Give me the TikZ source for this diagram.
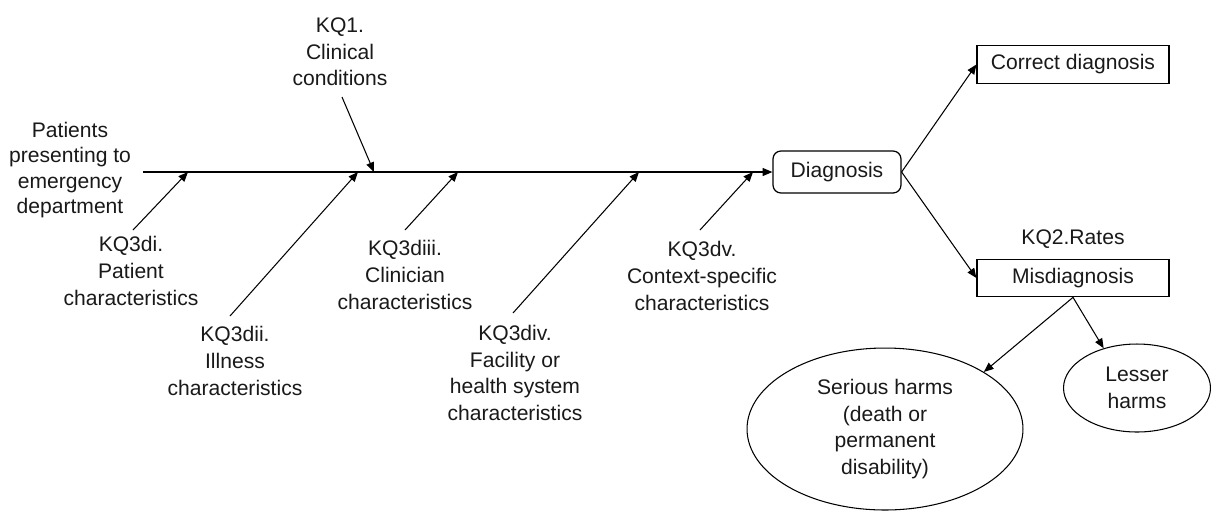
\documentclass[tikz,border=0pt]{standalone}
\usepackage{fontspec}
\setmainfont{Liberation Sans}
\usetikzlibrary{arrows.meta}
\usetikzlibrary{shapes.geometric}

\begin{document}
\begin{tikzpicture}[x=0.02cm,y=-0.02cm,
  every node/.style={font=\fontsize{12}{15.2}\selectfont,align=center,text=black!90},
  arr/.style={-{Triangle[length=5.5pt,width=4.5pt]},line width=0.6pt},
  box/.style={draw,line width=0.7pt,minimum width=3.84cm,minimum height=0.75cm,inner sep=0pt},
  dbox/.style={draw,line width=0.7pt,rounded corners=4.5pt,minimum width=2.56cm,minimum height=0.84cm,inner sep=0pt},
  ell/.style={draw,ellipse,line width=0.6pt,inner sep=0pt}]
\useasboundingbox (0,0) rectangle (1211,512);
\node[font=\fontsize{12}{14.4}\selectfont] (patients) at (70,170) {Patients\\presenting to\\emergency\\department};
\node[dbox] (diag) at (837,172) {Diagnosis};
\node[box] (correct) at (1073,64.5) {Correct diagnosis};
\node[box] (mis) at (1073,278) {Misdiagnosis};
\node (rates) at (1073,239) {KQ2.Rates};
\node[ell,minimum width=5.52cm,minimum height=3.24cm] (serious) at (885,429) {Serious harms\\(death or\\permanent\\disability)};
\node[ell,minimum width=2.94cm,minimum height=1.76cm] (lesser) at (1137,388) {Lesser\\harms};
\node (kq1) at (340,52) {KQ1.\\Clinical\\conditions};
\node (di) at (131,271) {KQ3di.\\Patient\\characteristics};
\node (dii) at (235,361) {KQ3dii.\\Illness\\characteristics};
\node (diii) at (405,275) {KQ3diii.\\Clinician\\characteristics};
\node (div) at (515,373) {KQ3div.\\Facility or\\health system\\characteristics};
\node (dv) at (702,276) {KQ3dv.\\Context-specific\\characteristics};
\coordinate (spine) at (143,172);
\coordinate (t0) at (342,97);
\coordinate (h0) at (374,172);
\coordinate (t1) at (133,230);
\coordinate (h1) at (188,172);
\coordinate (t2) at (230,316);
\coordinate (h2) at (358,172);
\coordinate (t3) at (405,230);
\coordinate (h3) at (458,172);
\coordinate (t4) at (513,313);
\coordinate (h4) at (639,172);
\coordinate (t5) at (700,230);
\coordinate (h5) at (753,172);
\draw[arr] (spine) -- (diag.west);
\draw[arr] (t0) -- (h0);
\draw[arr] (t1) -- (h1);
\draw[arr] (t2) -- (h2);
\draw[arr] (t3) -- (h3);
\draw[arr] (t4) -- (h4);
\draw[arr] (t5) -- (h5);
\draw[arr] (diag.east) -- (correct.west);
\draw[arr] (diag.east) -- (mis.west);
\draw[arr] (mis.south) -- (serious.30);
\draw[arr] (mis.south) -- (lesser.130);
\end{tikzpicture}
\end{document}
